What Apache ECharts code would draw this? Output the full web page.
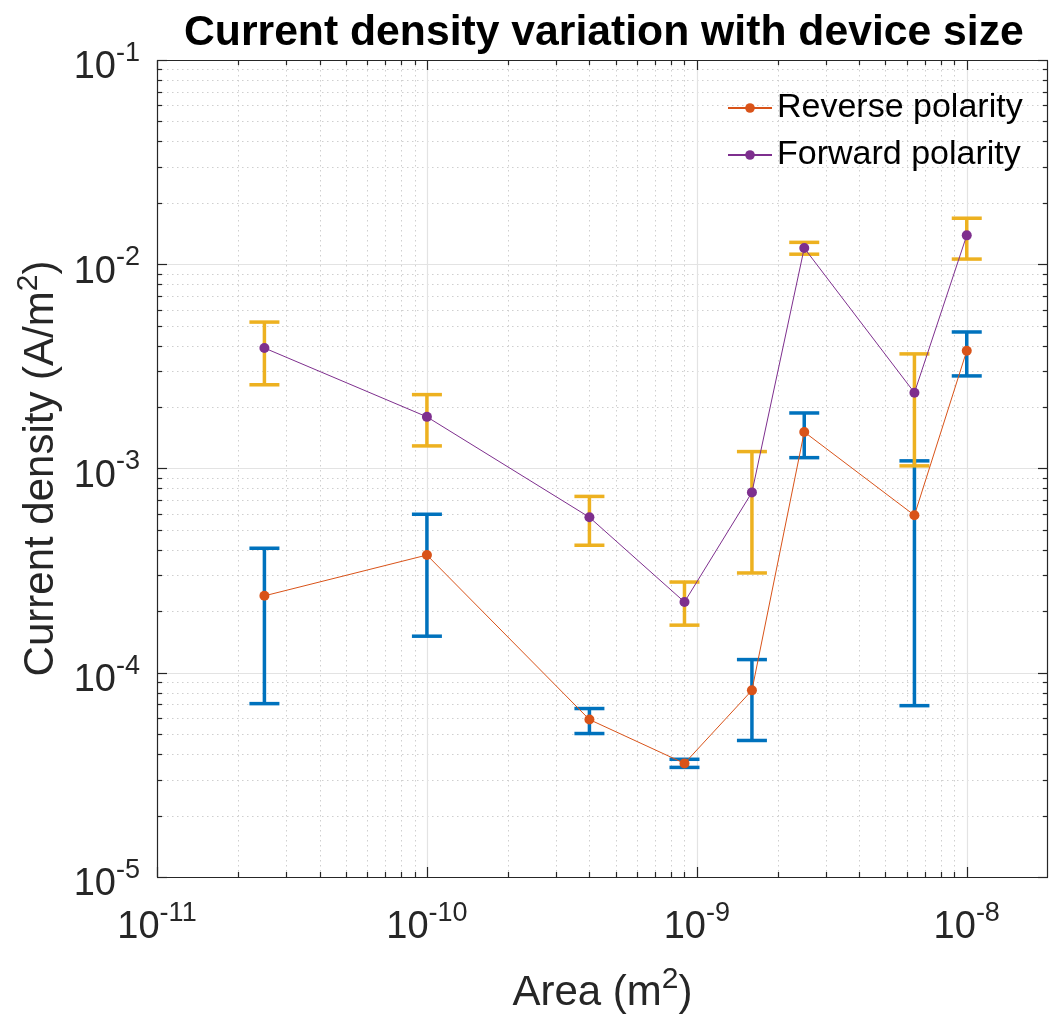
<!DOCTYPE html>
<html>
<head>
<meta charset="utf-8">
<title>Current density variation with device size</title>
<script src="https://cdn.jsdelivr.net/npm/echarts@6/dist/echarts.min.js"></script>
<style>
  html, body { margin: 0; padding: 0; background: #ffffff; }
  #chart { width: 1051px; height: 1019px; }
</style>
</head>
<body>
<div id="chart"></div>
<script>
// Device areas (m^2) for the square devices measured
const areas = [2.5e-11, 1e-10, 4e-10, 9e-10, 1.6e-9, 2.5e-9, 6.4e-9, 1e-8];

// Reverse polarity: mean current density and error-bar limits (A/m^2)
const reverseMean = [2.38e-4, 3.77e-4, 5.9e-5, 3.6e-5, 8.2e-5, 1.51e-3, 5.9e-4, 3.77e-3];
const reverseLow  = [7.06e-5, 1.51e-4, 5.04e-5, 3.44e-5, 4.66e-5, 1.13e-3, 6.9e-5, 2.84e-3];
const reverseHigh = [4.07e-4, 5.97e-4, 6.68e-5, 3.77e-5, 1.16e-4, 1.87e-3, 1.09e-3, 4.66e-3];

// Forward polarity: mean current density and error-bar limits (A/m^2)
const forwardMean = [3.89e-3, 1.79e-3, 5.77e-4, 2.22e-4, 7.64e-4, 1.2e-2, 2.35e-3, 1.385e-2];
const forwardLow  = [2.57e-3, 1.29e-3, 4.21e-4, 1.71e-4, 3.08e-4, 1.12e-2, 1.03e-3, 1.06e-2];
const forwardHigh = [5.21e-3, 2.30e-3, 7.3e-4, 2.78e-4, 1.21e-3, 1.28e-2, 3.64e-3, 1.68e-2];

// Decade tick values of both axes
const xDecades = [1e-11, 1e-10, 1e-9, 1e-8];
const yDecades = [1e-5, 1e-4, 1e-3, 1e-2, 1e-1];
const xMin = 1e-11, xMax = 2e-8;
const yMin = 1e-5, yMax = 1e-1;

const FONT = "'Liberation Sans', Arial, Helvetica, sans-serif";
const AXIS_COLOR = '#262626';

// Minor tick values (2..9 x each decade) inside a range
function minorValues(decades, lo, hi) {
  const out = [];
  const first = decades[0] / 10;
  for (let d = first; d <= hi * 1.0001; d *= 10) {
    for (let m = 2; m <= 9; m++) {
      const v = m * d;
      if (v > lo * 1.0001 && v < hi * 0.9999) out.push(v);
    }
  }
  return out;
}
const xMinor = minorValues(xDecades, xMin, xMax);
const yMinor = minorValues(yDecades, yMin, yMax);

function crisp(v) { return Math.round(v) + 0.5; }

// Grid lines, tick marks and the box around the plot area
function renderFrame(params, api) {
  const cs = params.coordSys;
  const left = cs.x, top = cs.y, right = cs.x + cs.width, bottom = cs.y + cs.height;
  const px = v => crisp(api.coord([v, yMin])[0]);
  const py = v => crisp(api.coord([xMin, v])[1]);
  const kids = [];
  const line = (x1, y1, x2, y2, style) => kids.push({ type: 'line', shape: { x1, y1, x2, y2 }, style });
  const minorStyle = { stroke: '#cfcfcf', lineWidth: 1, lineDash: [1.5, 3.5] };
  const majorStyle = { stroke: '#e3e3e3', lineWidth: 1.2 };
  const tickStyle = { stroke: AXIS_COLOR, lineWidth: 1.2 };

  xMinor.forEach(v => { const x = px(v); line(x, top, x, bottom, minorStyle); });
  yMinor.forEach(v => { const y = py(v); line(left, y, right, y, minorStyle); });
  xDecades.forEach(v => { const x = px(v); if (x > left + 1 && x < right - 1) line(x, top, x, bottom, majorStyle); });
  yDecades.forEach(v => { const y = py(v); if (y > top + 1 && y < bottom - 1) line(left, y, right, y, majorStyle); });

  const MAJ = 10, MIN = 5;
  xDecades.forEach(v => { const x = px(v); line(x, bottom, x, bottom - MAJ, tickStyle); line(x, top, x, top + MAJ, tickStyle); });
  xMinor.forEach(v => { const x = px(v); line(x, bottom, x, bottom - MIN, tickStyle); line(x, top, x, top + MIN, tickStyle); });
  yDecades.forEach(v => { const y = py(v); line(left, y, left + MAJ, y, tickStyle); line(right, y, right - MAJ, y, tickStyle); });
  yMinor.forEach(v => { const y = py(v); line(left, y, left + MIN, y, tickStyle); line(right, y, right - MIN, y, tickStyle); });

  const l = crisp(left), r = crisp(right) - 1, t = crisp(top), b = crisp(bottom);
  line(l, t, r, t, tickStyle);
  line(l, b, r, b, tickStyle);
  line(l, t, l, b, tickStyle);
  line(r, t, r, b, tickStyle);
  return { type: 'group', children: kids };
}

// Vertical error bar with caps
function renderErrorBar(params, api) {
  const x = api.value(0);
  const lo = api.coord([x, api.value(1)]);
  const hi = api.coord([x, api.value(2)]);
  const half = 15;
  const style = { stroke: api.visual('color'), lineWidth: 3.5 };
  return {
    type: 'group',
    children: [
      { type: 'line', shape: { x1: lo[0], y1: lo[1], x2: hi[0], y2: hi[1] }, style },
      { type: 'line', shape: { x1: lo[0] - half, y1: lo[1], x2: lo[0] + half, y2: lo[1] }, style },
      { type: 'line', shape: { x1: hi[0] - half, y1: hi[1], x2: hi[0] + half, y2: hi[1] }, style }
    ]
  };
}

function powerLabel(value) {
  const e = Math.log10(value);
  const n = Math.round(e);
  if (Math.abs(e - n) > 1e-6) return '';
  return '{b|10}{s|' + n + '}';
}

const tickRich = {
  b: { fontFamily: FONT, fontSize: 38, color: AXIS_COLOR, lineHeight: 56 },
  s: { fontFamily: FONT, fontSize: 27, color: AXIS_COLOR, lineHeight: 20, verticalAlign: 'top' }
};
const nameRich = {
  t: { fontFamily: FONT, fontSize: 42, color: AXIS_COLOR, lineHeight: 56 },
  s: { fontFamily: FONT, fontSize: 30, color: AXIS_COLOR, lineHeight: 22, verticalAlign: 'top' }
};

const chart = echarts.init(document.getElementById('chart'), null, { renderer: 'canvas' });

chart.setOption({
  animation: false,
  backgroundColor: '#ffffff',
  title: {
    text: 'Current density variation with device size',
    left: 179,
    top: 7,
    textStyle: { fontFamily: FONT, fontSize: 42.7, fontWeight: 'bold', color: '#000000' }
  },
  legend: {
    data: ['Reverse polarity', 'Forward polarity'],
    orient: 'vertical',
    left: 727,
    top: 88,
    padding: 0,
    itemWidth: 44,
    itemHeight: 12,
    itemGap: 7,
    textStyle: { fontFamily: FONT, fontSize: 34, color: '#000000', lineHeight: 40 }
  },
  grid: { left: 157, right: 3, top: 60, bottom: 139, containLabel: false },
  xAxis: {
    type: 'log',
    logBase: 10,
    min: xMin,
    max: xMax,
    name: '{t|Area (m}{s|2}{t|)}',
    nameLocation: 'middle',
    nameGap: 88,
    nameTextStyle: { rich: nameRich },
    axisLine: { show: false },
    axisTick: { show: false },
    splitLine: { show: false },
    minorTick: { show: false },
    axisLabel: { margin: 23, formatter: powerLabel, rich: tickRich }
  },
  yAxis: {
    type: 'log',
    logBase: 10,
    min: yMin,
    max: yMax,
    name: '{t|Current density (A/m}{s|2}{t|)}',
    nameLocation: 'middle',
    nameGap: 87,
    nameTextStyle: { rich: nameRich },
    axisLine: { show: false },
    axisTick: { show: false },
    splitLine: { show: false },
    axisLabel: { margin: 17, padding: [16, 0, 0, 0], formatter: powerLabel, rich: tickRich }
  },
  series: [
    {
      name: 'frame',
      type: 'custom',
      silent: true,
      z: 1,
      renderItem: renderFrame,
      data: [[xMin, yMin]],
      encode: { x: 0, y: 1 }
    },
    {
      name: 'Reverse error',
      type: 'custom',
      z: 2,
      itemStyle: { color: '#0072BD' },
      renderItem: renderErrorBar,
      data: areas.map((a, i) => [a, reverseLow[i], reverseHigh[i]]),
      encode: { x: 0, y: [1, 2] }
    },
    {
      name: 'Forward error',
      type: 'custom',
      z: 2,
      itemStyle: { color: '#EDB120' },
      renderItem: renderErrorBar,
      data: areas.map((a, i) => [a, forwardLow[i], forwardHigh[i]]),
      encode: { x: 0, y: [1, 2] }
    },
    {
      name: 'Reverse polarity',
      type: 'line',
      z: 3,
      symbol: 'circle',
      symbolSize: 10,
      color: '#D95319',
      lineStyle: { width: 1, color: '#D95319' },
      itemStyle: { color: '#D95319' },
      data: areas.map((a, i) => [a, reverseMean[i]])
    },
    {
      name: 'Forward polarity',
      type: 'line',
      z: 3,
      symbol: 'circle',
      symbolSize: 10,
      color: '#7E2F8E',
      lineStyle: { width: 1, color: '#7E2F8E' },
      itemStyle: { color: '#7E2F8E' },
      data: areas.map((a, i) => [a, forwardMean[i]])
    }
  ]
});
</script>
</body>
</html>
